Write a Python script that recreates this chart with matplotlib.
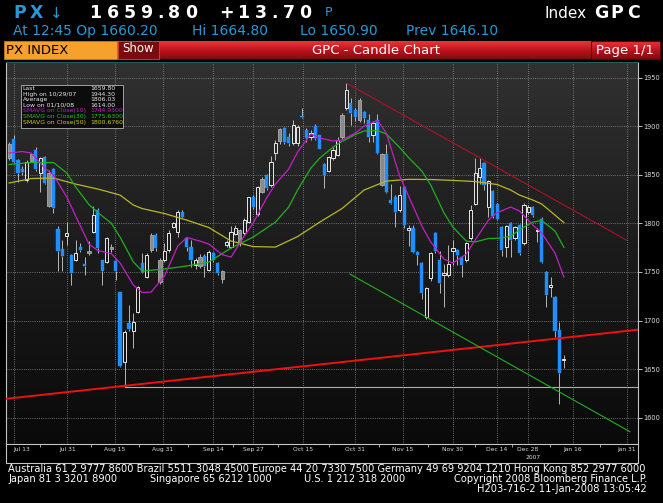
"""
GPC Index - Candle Chart (Bloomberg style), Jul 2007 - Jan 2008
Daily OHLC candles with 10/30/50 day simple moving averages and trend lines.
"""

import numpy as np
import matplotlib
matplotlib.use('Agg')
import matplotlib.pyplot as plt
from matplotlib.colors import LinearSegmentedColormap
from matplotlib.patches import Rectangle
from matplotlib.lines import Line2D

W, H = 663, 503

# ---- daily candles (trading day index 0..125) ----
opens = [
    1882, 1887, 1865, 1856, 1844.5, 1871, 1875, 1852, 1868, 1852,
    1855.5, 1794, 1774, 1787, 1767, 1762, 1776, 1758, 1771.5, 1791.4,
    1813.7, 1762, 1760.5, 1776, 1761, 1729, 1657.6, 1697, 1689.5, 1709,
    1758.8, 1745, 1788, 1788, 1762, 1762, 1772.5, 1796.5, 1791.4, 1812,
    1784.6, 1776, 1757, 1765.6, 1766, 1752, 1769, 1759, 1751, 1777.7,
    1776, 1789, 1793, 1789.7, 1801.6, 1827.4, 1810, 1846, 1849.7, 1839.4,
    1872, 1897, 1898, 1888.6, 1882.3, 1882.3, 1910, 1896, 1889, 1900.4,
    1890.8, 1861, 1854, 1867, 1870, 1911.4, 1918.3, 1924, 1917, 1927,
    1914.8, 1906, 1891, 1906, 1871, 1871, 1824, 1827.4, 1813.7, 1837.6,
    1793, 1795, 1771, 1759.5, 1703.5, 1743.4, 1789.7, 1762.2, 1747, 1747,
    1772, 1773, 1765, 1762, 1784.6, 1819.9, 1847.3, 1861.7, 1817, 1833.5,
    1819.9, 1796, 1776, 1800, 1784.6, 1798.3, 1779.4, 1812, 1817, 1792.6,
    1804, 1750.2, 1735, 1724.5, 1690.2, 1660.2]
highs = [
    1884, 1891, 1866, 1859, 1865, 1872, 1879, 1868.5, 1869, 1855,
    1857, 1797, 1783, 1801.6, 1768, 1783, 1779.4, 1765.6, 1782, 1817.8,
    1815.5, 1762, 1786, 1779, 1762, 1729, 1690, 1716, 1708, 1736,
    1769, 1769.7, 1790, 1789.7, 1764, 1779.4, 1793, 1801.7, 1813.7, 1813.7,
    1786, 1783, 1764, 1768, 1768.5, 1773, 1771, 1760, 1752, 1783,
    1797.6, 1798, 1794, 1805, 1827.5, 1829, 1838, 1848, 1851, 1869,
    1886, 1898, 1899, 1893, 1906, 1901, 1919, 1897.6, 1896, 1902,
    1891, 1862, 1869.4, 1879, 1889, 1914, 1944.3, 1928.6, 1918.3, 1928.6,
    1916, 1913, 1905, 1913, 1872, 1882, 1840.6, 1829, 1838, 1838.4,
    1798, 1798, 1772, 1760.5, 1735, 1771, 1791, 1772, 1758, 1778,
    1783, 1774, 1766, 1781, 1819, 1867, 1867, 1863, 1844.5, 1834,
    1821, 1797, 1798, 1801, 1797, 1799, 1821, 1819, 1818, 1795,
    1806.8, 1751, 1745, 1725, 1698.8, 1664.8]
lows = [
    1865, 1862, 1843, 1850, 1843, 1863.5, 1854, 1832.5, 1840, 1817,
    1811, 1751, 1751, 1777.7, 1736.5, 1761, 1771, 1747, 1767.4, 1789.7,
    1769, 1736.5, 1759, 1771, 1741.7, 1652, 1632, 1689, 1671.4, 1708,
    1749, 1744, 1771, 1772, 1738, 1760.5, 1771, 1795, 1786, 1806,
    1772, 1755, 1753, 1754, 1745, 1751, 1760, 1747, 1739, 1776,
    1775, 1788, 1777, 1788, 1800, 1815, 1808, 1831, 1834, 1837,
    1865.6, 1882, 1882, 1880, 1880.5, 1880, 1908, 1884, 1885.6, 1885.6,
    1876, 1836, 1853, 1865.6, 1869, 1887, 1917, 1901, 1905, 1904.6,
    1903, 1884, 1884, 1871, 1838, 1831, 1820, 1796.5, 1812, 1795,
    1777, 1769, 1757, 1722, 1702, 1741, 1770, 1728.6, 1714, 1745,
    1757, 1757, 1745, 1760, 1783, 1819, 1841, 1834, 1806.8, 1805,
    1803, 1766.4, 1765.6, 1765.6, 1783, 1767, 1778, 1810, 1807, 1781,
    1759, 1714.2, 1724.5, 1683, 1614, 1650.9]
closes = [
    1867, 1863, 1851.5, 1853, 1863.4, 1864.5, 1855.5, 1867, 1842, 1818,
    1815.4, 1772, 1766, 1790, 1748.6, 1769, 1772.5, 1756, 1769, 1808.5,
    1774.3, 1751, 1784.6, 1773.5, 1751, 1653, 1688.5, 1691, 1698.8, 1734.8,
    1750, 1767.4, 1772.5, 1774.3, 1740, 1772, 1789.7, 1800, 1812, 1807,
    1776, 1762, 1762, 1756, 1756, 1771, 1762, 1748.6, 1742.4, 1781,
    1791.4, 1795, 1779.4, 1803.4, 1826.7, 1817, 1837, 1832.5, 1836, 1863.4,
    1882.3, 1885, 1884, 1882.3, 1901, 1899.4, 1909, 1887.4, 1892.6, 1887.4,
    1877, 1849.7, 1868, 1875, 1885.7, 1889, 1937, 1913.8, 1909, 1906.3,
    1908, 1889, 1903, 1872, 1839.4, 1832.5, 1821, 1812, 1829, 1798,
    1795, 1771, 1767.4, 1728, 1733, 1769, 1771.8, 1738.3, 1748.6, 1758,
    1775, 1767.4, 1757, 1779.4, 1813.7, 1851.4, 1856.6, 1839.4, 1843.8, 1807.5,
    1804, 1772.5, 1797.2, 1782.8, 1795.9, 1769.1, 1818.8, 1817, 1808.5, 1793.6,
    1760.5, 1726.2, 1736.5, 1689.5, 1646.1, 1659.8]
# candles drawn as grey filled bodies
gray_days = [0, 5, 9, 18, 23, 32, 34, 43, 48, 52, 57, 61, 75, 79, 84]

# ---- moving averages ----
sma10_idx = [0, 3, 5, 8, 10, 13, 15, 18, 20, 23, 25, 28, 30, 32, 35, 38, 40, 43, 45, 48,
             50, 53, 55, 58, 60, 63, 65, 68, 70, 73, 75, 78, 80, 83, 85, 88, 90, 93, 95, 98,
             100, 103, 105, 108, 110, 113, 115, 118, 120, 123, 125]
sma10 = [1872.3, 1873.9, 1872.3, 1856.9, 1849.7, 1827.1, 1807.5, 1778.7, 1772.0, 1768.9,
         1759.2, 1736.5, 1728.8, 1729.3, 1745.8, 1776.6, 1785.4, 1781.8, 1778.7, 1767.9,
         1765.3, 1786.9, 1800.3, 1826.0, 1840.4, 1855.9, 1873.4, 1891.9, 1887.8, 1884.7,
         1885.7, 1892.9, 1900.1, 1905.8, 1892.9, 1848.7, 1828.1, 1797.2, 1780.8, 1763.2,
         1759.2, 1768.4, 1782.8, 1803.4, 1811.1, 1816.8, 1812.7, 1798.3, 1790.0, 1769.4,
         1744.9]
sma30_idx = [0, 5, 10, 13, 15, 18, 20, 23, 25, 28, 30, 35, 40, 45, 50, 55, 60, 63, 65, 68,
             70, 73, 75, 78, 80, 83, 85, 88, 90, 93, 95, 98, 100, 103, 105, 108, 110, 113,
             115, 118, 120, 123, 125]
sma30 = [1860.5, 1862.6, 1862.6, 1851.8, 1837.4, 1819.3, 1811.1, 1800.3, 1785.9, 1760.2,
         1750.9, 1753.0, 1756.1, 1760.2, 1774.6, 1785.9, 1801.3, 1816.8, 1834.3, 1856.9,
         1867.2, 1878.5, 1884.2, 1891.4, 1895.0, 1895.5, 1891.9, 1878.0, 1867.7, 1853.8,
         1839.4, 1810.6, 1796.2, 1781.8, 1780.8, 1784.4, 1784.6, 1786.4, 1793.6, 1801.3,
         1802.9, 1792.1, 1775.3]
sma50_idx = [0, 5, 10, 15, 20, 25, 28, 30, 35, 40, 45, 50, 55, 60, 65, 70, 75, 80, 85, 90,
             95, 100, 105, 110, 113, 115, 118, 120, 123, 125]
sma50 = [1841.5, 1846.1, 1846.6, 1840.4, 1835.3, 1829.1, 1818.8, 1815.2, 1810.1, 1803.4,
         1795.7, 1781.8, 1776.1, 1775.6, 1786.4, 1801.3, 1815.2, 1834.3, 1843.5, 1845.3,
         1845.1, 1844.2, 1843.0, 1839.9, 1834.3, 1829.1, 1824.0, 1819.9, 1808.5, 1800.7]

# ---- hand-drawn trend lines (index, value) ----
support_idx, support_val = [-0.7, 141.7], [1619.5, 1690.6]
resist_idx, resist_val = [76, 139.1], [1944.3, 1782.8]
channel_idx, channel_val = [76.8, 139.9], [1747.8, 1585.6]
low_line_idx, low_line_val = [26, 141.7], [1632, 1632]

# ---- axis labels ----
tick_pos = [1.0, 13.1, 23.9, 34.7, 46.0, 55.0, 66.2, 77.9, 88.7, 100.0, 109.9, 116.9, 127.0, 139.2]
tick_labels = ['Jul 13', 'Jul 31', 'Aug 15', 'Aug 31', 'Sep 14', 'Sep 27', 'Oct 15',
               'Oct 31', 'Nov 15', 'Nov 30', 'Dec 14', 'Dec 28', 'Jan 16', 'Jan 31']
y_ticks = [1600, 1650, 1700, 1750, 1800, 1850, 1900, 1950]

legend_rows = [
    ('Last', '1659.80'),
    ('High on 10/29/07', '1944.30'),
    ('Average', '1806.03'),
    ('Low on 01/10/08', '1614.00'),
    ('SMAVG on Close(10)', '1744.9300'),
    ('SMAVG on Close(30)', '1775.6300'),
    ('SMAVG on Close(50)', '1800.6760'),
]

CYAN = '#2899d4'
BLUE = '#1f8fff'
MAG = '#c41fc4'
GRN = '#20b020'
YEL = '#b8b826'


def fx(x):
    return x / W


def fy(y):
    return 1 - y / H


def spaced_text(fig, x, y, s, pitch=16, dot=11, **kw):
    """Place characters one by one to mimic the wide terminal font."""
    for ch in s:
        step = dot if ch == '.' else pitch
        fig.text(fx(x + step / 2), fy(y), ch, ha='center', va='center', **kw)
        x += step


def draw_header(fig):
    big = dict(fontsize=12.5, fontweight='bold')
    spaced_text(fig, 12, 13, 'PX', color=CYAN, **big)
    fig.text(fx(56), fy(13), '\u2193', color=CYAN, fontsize=11, ha='center', va='center')
    spaced_text(fig, 87, 13, '1659.80', pitch=17, color='white', **big)
    spaced_text(fig, 218, 13, '+13.70', pitch=17, color='white', **big)
    fig.text(fx(325), fy(13), 'P', color=CYAN, fontsize=9, va='center')
    fig.text(fx(545), fy(13), 'Index', color='white', fontsize=11, va='center')
    spaced_text(fig, 593, 13, 'GPC', color='white', **big)

    for x, s in [(13, 'At 12:45 Op 1660.20'), (192, 'Hi 1664.80'),
                 (300, 'Lo 1650.90'), (406, 'Prev 1646.10')]:
        fig.text(fx(x), fy(31), s, color=CYAN, fontsize=10, va='center')

    # red title bar with gradient
    bar = fig.add_axes([fx(118), fy(59), fx(660) - fx(118), 18 / H])
    bar.axis('off')
    red = LinearSegmentedColormap.from_list('red', ['#7c0c10', '#c0141c', '#e8363a'])
    bar.imshow(np.linspace(0, 1, 64).reshape(-1, 1), origin='lower', aspect='auto',
               cmap=red, extent=[0, 1, 0, 1])
    bar.set_xlim(0, 1)
    bar.set_ylim(0, 1)

    fig.add_artist(Rectangle((fx(4), fy(59)), fx(117) - fx(4), 18 / H,
                             transform=fig.transFigure, facecolor='#f6a02e',
                             edgecolor='#c87818', lw=0.6, zorder=5))
    fig.text(fx(6), fy(50.5), 'PX INDEX', color='black', fontsize=9.5, va='center', zorder=6)
    fig.add_artist(Rectangle((fx(118), fy(59)), fx(159) - fx(118), 18 / H,
                             transform=fig.transFigure, facecolor='#7a0c10',
                             edgecolor='#d84040', lw=0.6, zorder=5))
    fig.text(fx(138.5), fy(48), 'Show', color='white', fontsize=8.5, ha='center',
             va='center', zorder=6)
    fig.text(fx(376), fy(50.5), 'GPC - Candle Chart', color='white', fontsize=9.5,
             ha='center', va='center', zorder=6)
    fig.add_artist(Rectangle((fx(591), fy(59)), fx(660) - fx(591), 18 / H,
                             transform=fig.transFigure, facecolor='none',
                             edgecolor='#5a0508', lw=0.8, zorder=5))
    fig.text(fx(625), fy(50.5), 'Page 1/1', color='white', fontsize=9.5, ha='center',
             va='center', zorder=6)


def draw_candles(ax):
    idx = np.arange(len(closes))
    o, h = np.array(opens), np.array(highs)
    l, c = np.array(lows), np.array(closes)
    top = np.maximum(o, c)
    bot = np.minimum(o, c)
    body = np.maximum(top - bot, 0.9)
    gray = np.isin(idx, gray_days)
    filled = (c < o - 0.5) & ~gray
    hollow = ~filled & ~gray

    ax.vlines(idx, top, h, color='#d0d0d0', lw=0.6, zorder=3)
    ax.vlines(idx, l, bot, color='#d0d0d0', lw=0.6, zorder=3)
    ax.bar(idx[filled], body[filled], bottom=bot[filled], width=0.72,
           color=BLUE, edgecolor=BLUE, lw=0.3, zorder=4)
    ax.bar(idx[gray], body[gray], bottom=bot[gray], width=0.72,
           color='#8a8a8a', edgecolor='#bcbcbc', lw=0.5, zorder=4)
    ax.bar(idx[hollow], body[hollow], bottom=bot[hollow], width=0.72,
           facecolor='none', edgecolor='#e8e8e8', lw=0.7, zorder=4)


def main():
    fig = plt.figure(figsize=(W / 100, H / 100), dpi=100, facecolor='black')

    ax = fig.add_axes([fx(6), fy(444), fx(638) - fx(6), (444 - 62) / H])
    x0, x1, y0, y1 = -0.7, 141.7, 1573, 1966
    bg = LinearSegmentedColormap.from_list('bg', ['#0a0a0a', '#1b1b1b', '#313131'])
    ax.imshow(np.linspace(0, 1, 256).reshape(-1, 1), extent=[x0, x1, y0, y1],
              origin='lower', aspect='auto', cmap=bg, zorder=0)
    ax.set_xlim(x0, x1)
    ax.set_ylim(y0, y1)

    ax.set_yticks(y_ticks)
    ax.yaxis.tick_right()
    ax.set_xticks(tick_pos)
    ax.set_xticklabels(tick_labels)
    # first date label sits to the right of its grid line
    ax.get_xticklabels()[0].set_horizontalalignment('left')
    mids = [(a + b) / 2 for a, b in zip(tick_pos[:-1], tick_pos[1:])]
    ax.set_xticks(mids, minor=True)
    ax.grid(True, which='major', color='#8c8c8c', linestyle=(0, (1, 1.6)), linewidth=0.6)
    ax.tick_params(axis='y', which='major', labelsize=4.8, colors='#dcdcdc',
                   length=3, width=0.6, pad=1)
    ax.tick_params(axis='x', which='major', labelsize=4.3, colors='#dcdcdc',
                   length=0, pad=2)
    ax.tick_params(axis='x', which='minor', length=2.5, width=0.6, color='#bbbbbb')
    for side in ['left', 'bottom', 'right']:
        ax.spines[side].set_color('#c4c4c4')
        ax.spines[side].set_linewidth(0.8)
    ax.spines['top'].set_color('#285c5c')

    draw_candles(ax)

    ax.plot(sma50_idx, sma50, color=YEL, lw=0.9, zorder=5)
    ax.plot(sma30_idx, sma30, color=GRN, lw=0.9, zorder=5)
    ax.plot(sma10_idx, sma10, color=MAG, lw=0.9, zorder=5)

    ax.plot(low_line_idx, low_line_val, color='#a4b4a4', lw=0.8, zorder=5)
    ax.plot(support_idx, support_val, color='#f01010', lw=1.4, zorder=6)
    ax.plot(resist_idx, resist_val, color='#b0102a', lw=0.8, zorder=6)
    ax.plot(channel_idx, channel_val, color='#22b022', lw=0.8, zorder=6)

    # date strip border and year label
    fig.add_artist(Line2D([fx(6), fx(6), fx(638), fx(638)], [fy(444), fy(463), fy(463), fy(444)],
                          transform=fig.transFigure, color='#c4c4c4', lw=0.8))
    fig.text(fx(533), fy(457.5), '2007', color='#dcdcdc', fontsize=4.3, ha='center', va='center')

    # statistics box
    fig.add_artist(Rectangle((fx(21), fy(128)), fx(123) - fx(21), 43 / H,
                             transform=fig.transFigure, facecolor='#0c0c0c',
                             edgecolor='#b4b4b4', lw=0.6, zorder=10))
    row_colors = ['#e6e6e6'] * 4 + [MAG, '#22c022', '#cccc22']
    for k, ((name, val), col) in enumerate(zip(legend_rows, row_colors)):
        y = 88.5 + 5.6 * k
        fig.text(fx(22.7), fy(y), name, color=col, fontsize=4.4, va='center', zorder=11)
        fig.text(fx(90.7), fy(y), val, color=col, fontsize=4.4, va='center', zorder=11)

    draw_header(fig)

    footer = [
        (8, 469, 'left', 'Australia 61 2 9777 8600 Brazil 5511 3048 4500 Europe 44 20 7330 7500 '
                         'Germany 49 69 9204 1210 Hong Kong 852 2977 6000'),
        (8, 479, 'left', 'Japan 81 3 3201 8900'),
        (150, 479, 'left', 'Singapore 65 6212 1000'),
        (304, 479, 'left', 'U.S. 1 212 318 2000'),
        (647, 479, 'right', 'Copyright 2008 Bloomberg Finance L.P.'),
        (647, 489, 'right', 'H203-716-2 11-Jan-2008 13:05:42'),
    ]
    for x, y, ha, s in footer:
        fig.text(fx(x), fy(y), s, color='white', fontsize=7.1, ha=ha, va='center')

    fig.savefig('out.png', dpi=100, facecolor='black')
    plt.close(fig)


if __name__ == "__main__":
    main()
